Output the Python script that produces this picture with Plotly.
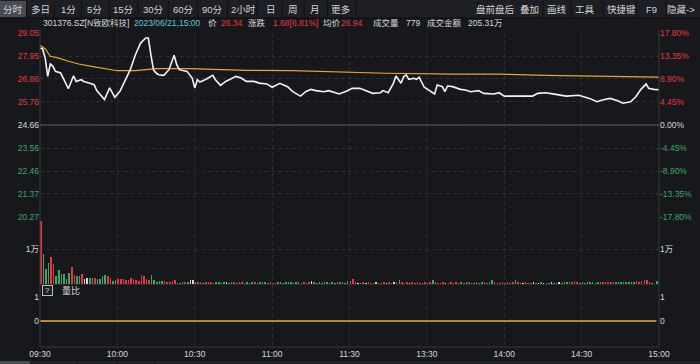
import plotly.graph_objects as go

W, H = 700, 364
PREV_CLOSE = 24.66

# ---- data ----
price_min = [0, 1, 2, 3, 4, 5, 6, 8, 9, 11, 13, 14, 16, 17, 19, 21, 22, 25, 27, 29,
             31, 33, 35, 37, 39, 41, 42, 43, 44, 45, 46, 48, 50, 52, 53, 54, 57, 59, 60, 61,
             62, 64, 67, 68, 70, 72, 76, 78, 80, 83, 85, 88, 90, 93, 96, 98, 101, 103, 105, 107,
             110, 112, 116, 119, 121, 124, 126, 129, 132, 133, 135, 137, 138, 140, 141, 142, 143, 145, 146, 147,
             149, 151, 153, 154, 156, 157, 158, 160, 163, 165, 167, 170, 172, 176, 178, 180, 184, 187, 191, 193,
             196, 200, 204, 209, 213, 216, 218, 221, 224, 226, 229, 231, 233, 235, 236, 238, 240]
price_val = [28.33, 28.30, 27.86, 26.98, 27.57, 27.46, 27.22, 27.14, 26.90, 26.39, 27.01, 26.74, 26.82, 26.74, 26.66, 26.58, 26.30, 25.87, 26.43, 25.98,
             26.27, 26.82, 27.30, 28.01, 28.57, 28.81, 28.81, 28.01, 27.30, 27.14, 27.06, 27.03, 27.30, 27.99, 27.54, 27.30, 27.22, 26.90, 26.43, 26.82,
             26.71, 26.82, 27.03, 26.82, 26.55, 26.74, 26.98, 26.90, 26.74, 26.74, 26.66, 26.62, 26.46, 26.65, 26.49, 26.25, 26.04, 26.25, 26.36, 26.30,
             26.25, 26.30, 26.14, 26.28, 26.41, 26.41, 26.30, 26.17, 26.20, 26.30, 26.20, 26.65, 27.00, 26.65, 26.96, 27.05, 26.84, 26.89, 26.84, 26.94,
             26.46, 26.30, 26.14, 26.57, 26.49, 26.25, 26.52, 26.49, 26.36, 26.33, 26.25, 26.30, 26.17, 26.14, 26.20, 26.04, 26.04, 26.01, 26.04, 26.17,
             26.20, 26.12, 26.04, 26.08, 25.93, 25.77, 25.85, 25.93, 25.82, 25.70, 25.77, 26.01, 26.36, 26.62, 26.41, 26.36, 26.34]

avg_min = [0, 2, 4, 7, 11, 15, 20, 25, 30, 37, 41, 45, 58, 80, 98, 116, 134, 160, 178, 196, 217, 227, 240]
avg_val = [28.46, 28.30, 27.94, 27.86, 27.70, 27.57, 27.46, 27.35, 27.25, 27.25, 27.30, 27.35, 27.35, 27.27, 27.25, 27.19, 27.13, 27.09, 27.09, 27.03, 27.00, 26.96, 26.94]

volume = [
    18100, 8500, 4200, 6100, 7800, 5600, 2150, 3900, 2900, 2900, 1470, 3100, 4900, 2450, 2150, 2150, 2900, 1470, 1670, 1760, 1760, 1670, 1470, 1470, 2250, 2650, 2250, 1670, 1000, 1270,
    1470, 1470, 1470, 1170, 1270, 1670, 1470, 1270, 1000, 2450, 2250, 1470, 1270, 2450, 1170, 700, 880, 880, 1000, 500, 700, 1000, 1170, 400, 300, 500, 500, 500, 1170, 1170,
    500, 600, 500, 400, 700, 500, 600, 400, 500, 600, 300, 500, 600, 400, 700, 500, 400, 600, 500, 300, 500, 400, 600, 500, 400, 700, 500, 600, 400, 500,
    400, 300, 500, 600, 400, 500, 700, 500, 400, 600, 500, 400, 500, 300, 600, 800, 500, 400, 500, 400, 600, 500, 300, 500, 400, 600, 700, 500, 400, 900,
    1000, 1570, 500, 400, 300, 500, 400, 600, 300, 400, 500, 300, 400, 500, 300, 600, 400, 500, 700, 1080, 500, 400, 500, 300, 600, 400, 500, 400, 300, 500,
    400, 500, 1270, 500, 400, 300, 500, 400, 300, 500, 400, 600, 300, 500, 400, 500, 600, 400, 300, 500, 400, 500, 600, 400, 500, 1080, 500, 400, 300, 500,
    400, 500, 300, 500, 1080, 500, 400, 300, 500, 400, 300, 500, 400, 300, 500, 400, 300, 400, 500, 300, 400, 500, 400, 500, 600, 500, 600, 800, 500, 400,
    500, 400, 500, 600, 500, 400, 500, 600, 500, 600, 700, 500, 600, 500, 600, 700, 500, 600, 700, 600, 700, 800, 700, 800, 1100, 1100, 600, 400, 0, 800,
]
vol_dir = (
    "rgggrrgggg" "ggrrggrwwg" "grggggrrgg"
    "rrrrrrrrrrrrr" "ggggg" "rrrrr" "ggg" "r" "g" "ww"
    "g" "rrgrrrr" "ggggwgg" "rrrrr" "gggrgggg" "rr"
    "rr" "ggggggggg" "rrrr" "w" "gggggggggg" "r" "ggg"
    "rr" "rwrrwrrrwrrrwrrwr" "g" "rrrwrrrrgr"
    "rr" "g" "rrrrwrrrrr" "grgrrggrgrrg" "g" "rrrr"
    "rrrr" "g" "rrwrrrwr" "wgwggwggwg" "gg" "rrrr" "g"
    "gggggggg" "rrrrr" "gggggggg" "rrrrrr" "ggg"
)

liangbi_min = [0, 239]
liangbi_val = [0, 0]

left_ticks = [20.27, 21.37, 22.46, 23.56, 24.66, 25.76, 26.86, 27.95, 29.05]
pct_ticks = [-17.80, -13.35, -8.90, -4.45, 0.00, 4.45, 8.90, 13.35, 17.80]
time_ticks = [0, 30, 60, 90, 120, 150, 180, 210, 240]
time_labels = ["09:30", "10:00", "10:30", "11:00", "11:30", "13:30", "14:00", "14:30", "15:00"]

toolbar_left = ["分时", "多日", "1分", "5分", "15分", "30分", "60分", "90分", "2小时", "日", "周", "月", "更多"]
toolbar_right = ["盘前盘后", "叠加", "画线", "工具", "快捷键", "F9", "隐藏->"]

info_texts = ["301376.SZ[N致欧科技]", "2023/06/21,15:00", "价", "26.34", "涨跌", "1.68[6.81%]",
              "均价", "26.94", "成交量", "779", "成交金额", "205.31万"]
info_kinds = ["w", "c", "w", "r", "w", "r", "w", "r", "w", "w", "w", "w"]

# ---- style ----
BG = "#16181c"
RED = "#e6393f"
GREEN = "#3fa66a"
WHITE = "#d8d8d8"
CYAN = "#5cc9d6"
GRID = "#2b2e34"
FONT = "Liberation Sans, Arial, Noto Sans CJK SC, sans-serif"
col_map = {"r": RED, "g": GREEN, "w": WHITE, "c": CYAN}


def px(x):
    return x / W


def py(y):
    return 1 - y / H


XDOM = [px(40), px(659)]


def span(txt, c):
    return f"<span style='color:{c}'>{txt}</span>"


def lvl_color(v, ref):
    if abs(v - ref) < 1e-6:
        return WHITE
    return RED if v > ref else GREEN


left_text = [span(f"{v:.2f}", lvl_color(v, PREV_CLOSE)) for v in left_ticks]
pct_text = [span(f"{v:.2f}%", lvl_color(v, 0)) for v in pct_ticks]

fig = go.Figure()

fig.add_trace(go.Scatter(x=avg_min, y=avg_val, mode="lines", line=dict(color="#e8a72c", width=1.2),
                         xaxis="x", yaxis="y", hoverinfo="skip"))
fig.add_trace(go.Scatter(x=price_min, y=price_val, mode="lines", line=dict(color="#f2f2f2", width=1.6),
                         xaxis="x", yaxis="y", hoverinfo="skip"))
fig.add_trace(go.Scatter(x=price_min, y=[(p / PREV_CLOSE - 1) * 100 for p in price_val], mode="lines",
                         line=dict(width=0), opacity=0, xaxis="x", yaxis="y2", hoverinfo="skip"))

bar_x = [i + 0.3 for i in range(len(volume))]
bar_c = [col_map[c] for c in vol_dir]
fig.add_trace(go.Bar(x=bar_x, y=volume, marker=dict(color=bar_c, line=dict(width=0)), width=0.6,
                     xaxis="x2", yaxis="y3", hoverinfo="skip"))
fig.add_trace(go.Scatter(x=bar_x, y=volume, mode="markers", opacity=0, marker=dict(size=1),
                         xaxis="x2", yaxis="y4", hoverinfo="skip"))
fig.add_trace(go.Scatter(x=liangbi_min, y=liangbi_val, mode="lines", line=dict(color="#f0b030", width=1.3),
                         xaxis="x3", yaxis="y5", hoverinfo="skip"))
fig.add_trace(go.Scatter(x=liangbi_min, y=liangbi_val, mode="lines", opacity=0, line=dict(width=0),
                         xaxis="x3", yaxis="y6", hoverinfo="skip"))

dash = "4px,3px"
xcommon = dict(domain=XDOM, range=[0, 240], tickvals=time_ticks, showgrid=True, gridcolor=GRID,
               griddash=dash, gridwidth=1, zeroline=False, showline=False, ticks="", fixedrange=True,
               automargin=False)
tickfont = dict(family=FONT, size=8.5, color=WHITE)
ycommon = dict(zeroline=False, ticks="", automargin=False, fixedrange=True, showline=False)

fig.update_layout(
    template="none",
    width=W, height=H, autosize=False,
    margin=dict(l=0, r=0, t=0, b=0, pad=0, autoexpand=False),
    paper_bgcolor=BG, plot_bgcolor=BG,
    showlegend=False, bargap=0,
    font=dict(family=FONT, color=WHITE, size=9),
    xaxis=dict(**xcommon, anchor="y", showticklabels=False),
    xaxis2=dict(**xcommon, anchor="y3", showticklabels=False),
    xaxis3=dict(**xcommon, anchor="y5", showticklabels=True, ticktext=time_labels, tickfont=tickfont),
    yaxis=dict(**ycommon, domain=[py(217), py(33)], range=[left_ticks[0], left_ticks[-1]], tickvals=left_ticks,
               ticktext=left_text, tickfont=tickfont, showgrid=True, gridcolor=GRID, griddash=dash,
               anchor="x", side="left"),
    yaxis2=dict(**ycommon, range=[pct_ticks[0], pct_ticks[-1]], tickvals=pct_ticks, ticktext=pct_text,
                tickfont=tickfont, overlaying="y", side="right", anchor="x", showgrid=False),
    yaxis3=dict(**ycommon, domain=[py(284), py(220)], range=[0, 18286], tickvals=[10000], ticktext=["1万"],
                tickfont=tickfont, showgrid=True, gridcolor=GRID, griddash=dash, anchor="x2", side="left"),
    yaxis4=dict(**ycommon, range=[0, 18286], tickvals=[10000], ticktext=["1万"], tickfont=tickfont,
                overlaying="y3", side="right", anchor="x2", showgrid=False),
    yaxis5=dict(**ycommon, domain=[py(347), py(285)], range=[-1.083, 1.5], tickvals=[0, 1], ticktext=["0", "1"],
                tickfont=tickfont, showgrid=False, anchor="x3", side="left"),
    yaxis6=dict(**ycommon, range=[-1.083, 1.5], tickvals=[0, 1], ticktext=["0", "1"], tickfont=tickfont,
                overlaying="y5", side="right", anchor="x3", showgrid=False),
)

shapes = []
# toolbar background
shapes.append(dict(type="rect", xref="paper", yref="paper", x0=0, x1=1, y0=py(18), y1=1,
                   fillcolor="#1d1f24", line=dict(width=0), layer="below"))
shapes.append(dict(type="line", xref="paper", yref="paper", x0=0, x1=1, y0=py(18), y1=py(18),
                   line=dict(color="#0d0e11", width=1)))
shapes.append(dict(type="rect", xref="paper", yref="paper", x0=0, x1=px(27), y0=py(17), y1=py(1),
                   fillcolor="#4a4c53", line=dict(width=0)))
left_centers = [13, 40, 68, 95, 123, 153, 183, 212, 243, 271, 293, 315, 340]
right_centers = [495, 529, 557, 585, 621, 651, 681]
seps = [(a + b) / 2 for a, b in zip(left_centers[:-1], left_centers[1:])] + [356]
seps += [478] + [(a + b) / 2 for a, b in zip(right_centers[:-1], right_centers[1:])]
for s in seps:
    shapes.append(dict(type="line", xref="paper", yref="paper", x0=px(s), x1=px(s), y0=py(17), y1=py(1),
                       line=dict(color="#0f1013", width=1)))
# frame
shapes.append(dict(type="line", xref="paper", yref="paper", x0=XDOM[0], x1=XDOM[0], y0=py(347), y1=py(30),
                   line=dict(color="#34373e", width=1)))
shapes.append(dict(type="line", xref="paper", yref="paper", x0=XDOM[1], x1=XDOM[1], y0=py(347), y1=py(30),
                   line=dict(color="#34373e", width=1)))
shapes.append(dict(type="line", xref="paper", yref="paper", x0=XDOM[0], x1=XDOM[1], y0=py(347), y1=py(347),
                   line=dict(color="#34373e", width=1)))
shapes.append(dict(type="line", xref="paper", yref="paper", x0=XDOM[0], x1=XDOM[1], y0=py(284.5), y1=py(284.5),
                   line=dict(color="#2a2c32", width=1)))
# prev close line
shapes.append(dict(type="line", xref="x domain", yref="y", x0=0, x1=1, y0=PREV_CLOSE, y1=PREV_CLOSE,
                   line=dict(color="#45484f", width=1.6)))
# bottom tabs
shapes.append(dict(type="rect", xref="paper", yref="paper", x0=0, x1=1, y0=0, y1=py(361),
                   fillcolor="#202227", line=dict(width=0)))
shapes.append(dict(type="rect", xref="paper", yref="paper", x0=0, x1=px(30), y0=0, y1=py(361),
                   fillcolor="#4a4c53", line=dict(width=0)))
for s in [77, 117, 155]:
    shapes.append(dict(type="line", xref="paper", yref="paper", x0=px(s), x1=px(s), y0=0, y1=py(361),
                       line=dict(color="#0f1013", width=1)))
fig.update_layout(shapes=shapes)

ann = []
tb_font = dict(family=FONT, size=9.5, color="#d4d4d4")
for t, c in zip(toolbar_left + toolbar_right, left_centers + right_centers):
    ann.append(dict(text=t, x=px(c), y=py(9), xref="paper", yref="paper", xanchor="center", yanchor="middle",
                    showarrow=False, font=tb_font))
info_x = [42, 133, 207, 220, 247, 272, 322, 340, 372, 405, 426, 467]
for t, k, x in zip(info_texts, info_kinds, info_x):
    ann.append(dict(text=t, x=px(x), y=py(22.5), xref="paper", yref="paper", xanchor="left", yanchor="middle",
                    showarrow=False, font=dict(family=FONT, size=8.5, color=col_map[k]), borderpad=0))
ann.append(dict(text="?", x=px(47.5), y=py(290), xref="paper", yref="paper", xanchor="center", yanchor="middle",
                showarrow=False, font=dict(family=FONT, size=8, color=WHITE), bordercolor="#bbbbbb",
                borderwidth=1, borderpad=0, width=9, height=9, bgcolor="#1d1f24"))
ann.append(dict(text="量比", x=px(60), y=py(290), xref="paper", yref="paper", xanchor="left", yanchor="middle",
                showarrow=False, font=dict(family=FONT, size=9, color=WHITE)))
fig.update_layout(annotations=ann)

fig.write_html(
    "out.html",
    config={"displayModeBar": False, "staticPlot": True},
    post_script="document.body.style.margin='0';document.body.style.padding='0';"
                "document.body.style.background='#16181c';document.body.style.overflow='hidden';",
)
